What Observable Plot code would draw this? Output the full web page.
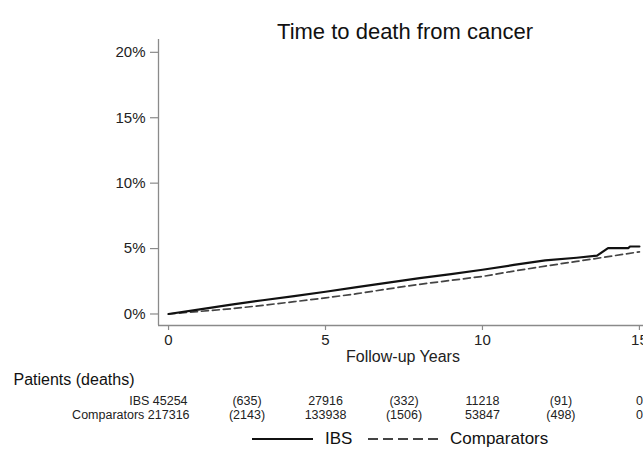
<!DOCTYPE html>
<html>
<head>
<meta charset="utf-8">
<script src="https://cdn.jsdelivr.net/npm/d3@7"></script>
<script src="https://cdn.jsdelivr.net/npm/@observablehq/plot@0.6"></script>
<style>
  body { margin: 0; background: white; font-family: "Liberation Sans", Arial, sans-serif; }
  #wrap { width: 643px; position: relative; }
  #legend { position: relative; width: 643px; height: 31px; font-size: 17px; color: #111; }
  #legend .it { position: absolute; top: 0; height: 28px; display: flex; align-items: center; }
</style>
</head>
<body>
<div id="wrap"></div>
<script>
// ---- data ----
const years = [0, 1, 2, 3, 4, 5, 6, 7, 8, 9, 10, 11, 12, 13, 13.65, 14.0, 14.65, 14.7, 15];
const ibs   = [0, 0.35, 0.71, 1.05, 1.37, 1.70, 2.05, 2.40, 2.74, 3.05, 3.38, 3.75, 4.10, 4.30, 4.46, 5.04, 5.04, 5.16, 5.16];
const compYears = [0, 1, 2, 3, 4, 5, 6, 7, 8, 9, 10, 11, 12, 13, 14, 15];
const comparators = [0, 0.20, 0.40, 0.66, 0.94, 1.23, 1.55, 1.92, 2.27, 2.57, 2.87, 3.28, 3.66, 4.02, 4.38, 4.75];

const tableTimes = [0, 2.5, 5, 7.5, 10, 12.5, 15];
const ibsTable  = ["45254", "(635)", "27916", "(332)", "11218", "(91)", "0"];
const compTable = ["217316", "(2143)", "133938", "(1506)", "53847", "(498)", "0"];

const xTicks = [0, 5, 10, 15];
const yTicks = [0, 0.05, 0.10, 0.15, 0.20];

const title = "Time to death from cancer";
const xLabel = "Follow-up Years";
const tableHeader = "Patients (deaths)";
const groups = ["IBS", "Comparators"];

// ---- build tables ----
const ibsData = years.map((t, i) => ({t, v: ibs[i] / 100}));
const compData = compYears.map((t, i) => ({t, v: comparators[i] / 100}));
const firstCol = [
  {t: tableTimes[0], label: `${groups[0]} ${ibsTable[0]}`, row: 0},
  {t: tableTimes[0], label: `${groups[1]} ${compTable[0]}`, row: 1}
];
const otherCols = [];
for (let i = 1; i < tableTimes.length; i++) {
  otherCols.push({t: tableTimes[i], label: ibsTable[i], row: 0});
  otherCols.push({t: tableTimes[i], label: compTable[i], row: 1});
}

const xDomain = [-0.32, 15.13];
const yDomain = [-0.0088, 0.2098];
const axisGray = "#8a8a8a";
const textCol = "#222";

const chart = Plot.plot({
  width: 643,
  height: 425,
  marginLeft: 158,
  marginRight: 0,
  marginTop: 39,
  marginBottom: 100,
  style: {fontFamily: "'Liberation Sans', Arial, sans-serif", fontSize: "15px", background: "white", overflow: "visible"},
  x: {domain: xDomain, axis: null, label: null},
  y: {domain: yDomain, axis: null, label: null},
  marks: [
    // axis lines
    Plot.ruleX([xDomain[0]], {stroke: axisGray, strokeWidth: 1.3}),
    Plot.ruleY([yDomain[0]], {stroke: axisGray, strokeWidth: 1.3}),
    // y axis
    Plot.axisY({ticks: yTicks, tickSize: 8, text: null, label: null, stroke: axisGray, strokeWidth: 1.2}),
    Plot.axisY({ticks: yTicks, tickSize: 0, tickPadding: 13, label: null, tickFormat: d3.format(".0%"), fill: textCol, fontSize: 15}),
    // x axis
    Plot.axisX({ticks: xTicks, tickSize: 5, text: null, label: null, stroke: axisGray, strokeWidth: 1.2}),
    Plot.axisX({ticks: xTicks, tickSize: 0, tickPadding: 9, label: null, fill: textCol, fontSize: 15}),
    Plot.text([xLabel], {frameAnchor: "bottom", dx: 2, dy: 36, fontSize: 16, fill: textCol}),
    // title
    Plot.text([title], {frameAnchor: "top", dx: 4, dy: -16, fontSize: 22, fill: "#111"}),
    // curves
    Plot.line(compData, {x: "t", y: "v", stroke: "#444", strokeWidth: 1.7, strokeDasharray: "7,4"}),
    Plot.line(ibsData, {x: "t", y: "v", stroke: "#111", strokeWidth: 2.2}),
    // risk table
    Plot.text([tableHeader], {frameAnchor: "bottom-left", textAnchor: "start", dx: -145, dy: 59, fontSize: 16, fill: "#111"}),
    Plot.text(firstCol.filter(d => d.row === 0), {x: "t", text: "label", frameAnchor: "bottom", textAnchor: "end", dx: 19, dy: 79, fontSize: 12.5, fill: textCol}),
    Plot.text(firstCol.filter(d => d.row === 1), {x: "t", text: "label", frameAnchor: "bottom", textAnchor: "end", dx: 21, dy: 93, fontSize: 12.5, fill: textCol}),
    Plot.text(otherCols.filter(d => d.row === 0), {x: "t", text: "label", frameAnchor: "bottom", dy: 79, fontSize: 12.5, fill: textCol}),
    Plot.text(otherCols.filter(d => d.row === 1), {x: "t", text: "label", frameAnchor: "bottom", dy: 93, fontSize: 12.5, fill: textCol})
  ]
});

const wrap = document.getElementById("wrap");
wrap.appendChild(chart);

const legend = document.createElement("div");
legend.id = "legend";
legend.innerHTML = `
  <div class="it" style="left:252px"><svg width="61" height="4"><line x1="0" x2="61" y1="2" y2="2" stroke="#111" stroke-width="2.2"/></svg></div>
  <div class="it" style="left:325px">${groups[0]}</div>
  <div class="it" style="left:368px"><svg width="75" height="4"><line x1="0" x2="75" y1="2" y2="2" stroke="#444" stroke-width="1.8" stroke-dasharray="10,5"/></svg></div>
  <div class="it" style="left:450px">${groups[1]}</div>`;
wrap.appendChild(legend);
</script>
</body>
</html>
